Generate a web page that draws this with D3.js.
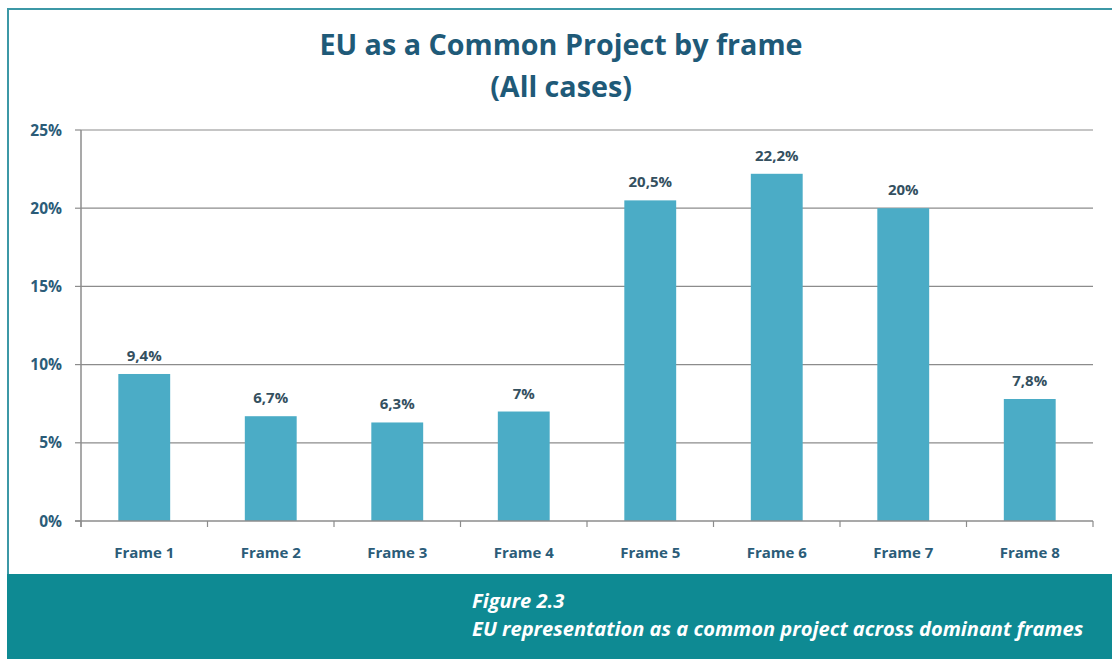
<!DOCTYPE html>
<html>
<head>
<meta charset="utf-8">
<script src="https://cdn.jsdelivr.net/npm/d3@7"></script>
<style>
  html, body { margin: 0; padding: 0; background: #fff; }
  svg { display: block; font-family: "Open Sans", Lato, sans-serif; }
</style>
</head>
<body>
<svg id="chart"></svg>
<script>
const width = 1112;
const height = 659;
const margin = { top: 130, right: 19, bottom: 138, left: 81 };

const frames = ["Frame 1", "Frame 2", "Frame 3", "Frame 4", "Frame 5", "Frame 6", "Frame 7", "Frame 8"];
const shares = [9.4, 6.7, 6.3, 7, 20.5, 22.2, 20, 7.8];
const yTicks = [0, 5, 10, 15, 20, 25];
const titleLines = ["EU as a Common Project by frame", "(All cases)"];
const captionLines = ["Figure 2.3", "EU representation as a common project across dominant frames"];

const svg = d3.select("#chart").attr("width", width).attr("height", height);

// frame
svg.append("rect")
  .attr("x", 8).attr("y", 9)
  .attr("width", width - 7).attr("height", height)
  .attr("fill", "#fff")
  .attr("stroke", "#3c98a6")
  .attr("stroke-width", 2);

const x = d3.scaleBand()
  .domain(frames)
  .range([margin.left, width - margin.right])
  .paddingInner(0.59)
  .paddingOuter(0.295);
const y = d3.scaleLinear()
  .domain([0, 25])
  .range([height - margin.bottom, margin.top]);

// grid
svg.append("g")
  .selectAll("line")
  .data(yTicks.slice(1))
  .join("line")
  .attr("x1", margin.left)
  .attr("x2", width - margin.right)
  .attr("y1", (d) => y(d))
  .attr("y2", (d) => y(d))
  .attr("stroke", "#8c8c8c")
  .attr("stroke-width", 1.2);

svg.append("g")
  .selectAll("rect")
  .data(frames)
  .join("rect")
  .attr("x", (d) => x(d))
  .attr("width", x.bandwidth())
  .attr("y", (d, i) => y(shares[i]))
  .attr("height", (d, i) => y(0) - y(shares[i]))
  .attr("fill", "#4bacc6");

svg.append("g")
  .selectAll("text")
  .data(frames)
  .join("text")
  .attr("x", (d) => x(d) + x.bandwidth() / 2)
  .attr("y", (d, i) => y(shares[i]) - 13)
  .attr("text-anchor", "middle")
  .attr("font-size", 15)
  .attr("font-weight", 700)
  .attr("fill", "#34505f")
  .text((d, i) => String(shares[i]).replace(".", ",") + "%");

// axes
const step = (width - margin.right - margin.left) / frames.length;
const xAxis = svg.append("g")
  .attr("transform", `translate(0,${y(0)})`);
xAxis.append("line")
  .attr("x1", margin.left - 6).attr("x2", width - margin.right)
  .attr("stroke", "#8c8c8c").attr("stroke-width", 1.5);
xAxis.selectAll("line.tick")
  .data(d3.range(frames.length + 1))
  .join("line")
  .attr("class", "tick")
  .attr("x1", (d) => margin.left + d * step)
  .attr("x2", (d) => margin.left + d * step)
  .attr("y1", 0).attr("y2", 6)
  .attr("stroke", "#8c8c8c").attr("stroke-width", 1.2);
xAxis.selectAll("text")
  .data(frames)
  .join("text")
  .attr("x", (d) => x(d) + x.bandwidth() / 2)
  .attr("y", 37)
  .attr("text-anchor", "middle")
  .attr("font-size", 15)
  .attr("font-weight", 700)
  .attr("fill", "#2b5c78")
  .text((d) => d);

const yAxis = svg.append("g").attr("transform", `translate(${margin.left},0)`);
yAxis.append("line")
  .attr("y1", y(25)).attr("y2", y(0) + 6)
  .attr("stroke", "#8c8c8c").attr("stroke-width", 1.5);
yAxis.selectAll("line.tick")
  .data(yTicks)
  .join("line")
  .attr("class", "tick")
  .attr("x1", -6).attr("x2", 0)
  .attr("y1", (d) => y(d)).attr("y2", (d) => y(d))
  .attr("stroke", "#8c8c8c").attr("stroke-width", 1.2);
yAxis.selectAll("text")
  .data(yTicks)
  .join("text")
  .attr("x", -19)
  .attr("y", (d) => y(d) + 5.5)
  .attr("text-anchor", "end")
  .attr("font-size", 15.5)
  .attr("font-weight", 700)
  .attr("fill", "#2b5c78")
  .text((d) => d + "%");

// title
svg.append("g")
  .selectAll("text")
  .data(titleLines)
  .join("text")
  .attr("x", 561)
  .attr("y", (d, i) => 55 + i * 42)
  .attr("text-anchor", "middle")
  .attr("font-size", 28.7)
  .attr("font-weight", 700)
  .attr("fill", "#1f5a78")
  .text((d) => d);

// caption band
svg.append("rect")
  .attr("x", 7).attr("y", 574)
  .attr("width", width - 7).attr("height", height - 574)
  .attr("fill", "#0e8a93");
svg.append("g")
  .selectAll("text")
  .data(captionLines)
  .join("text")
  .attr("x", 472)
  .attr("y", (d, i) => 608 + i * 28)
  .attr("font-size", 20.1)
  .attr("font-weight", 700)
  .attr("font-style", "italic")
  .attr("fill", "#fff")
  .text((d) => d);
</script>
</body>
</html>
